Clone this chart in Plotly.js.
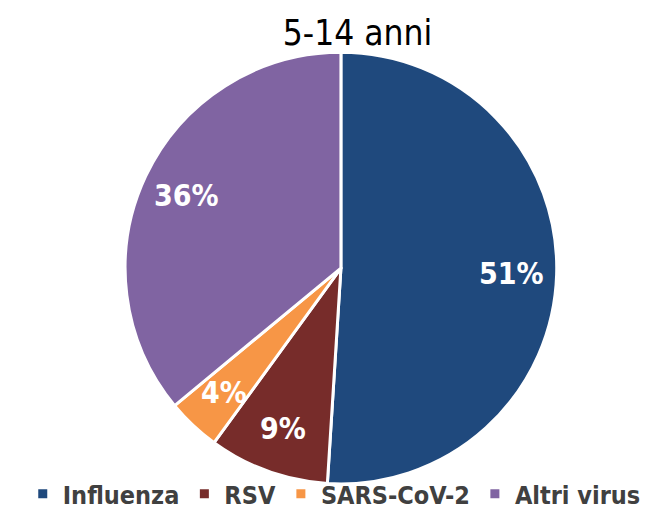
<!DOCTYPE html>
<html>
<head>
<meta charset="utf-8">
<script src="https://cdn.plot.ly/plotly-3.0.1.min.js"></script>
<style>html,body{margin:0;padding:0;background:#fff;}#chart{width:650px;height:517px;}</style>
</head>
<body>
<div id="chart"></div>
<script>
var categories = ["Influenza", "RSV", "SARS-CoV-2", "Altri virus"];
var values = [51, 9, 4, 36];
var colors = ["#1F497D", "#772C2A", "#F79646", "#8064A2"];
var titleText = "5-14 anni";

var dom = {x: [0.1925, 0.8565], y: [0.064, 0.899]};
var W = 650, H = 517;

var trace = {
  type: "pie",
  labels: categories,
  values: values,
  sort: false,
  direction: "clockwise",
  rotation: 0,
  marker: {colors: colors, line: {color: "#ffffff", width: 3}},
  textinfo: "none",
  textposition: "none",
  hoverinfo: "label+percent",
  domain: dom
};

// label annotations placed at slice mid-angles, computed from values
var total = values.reduce(function(a, b) { return a + b; }, 0);
var cxPx = (dom.x[0] + dom.x[1]) / 2 * W;
var cyPx = (dom.y[0] + dom.y[1]) / 2 * H;
var R = Math.min((dom.x[1] - dom.x[0]) * W, (dom.y[1] - dom.y[0]) * H) / 2;
var annotations = [];
var cum = 0;
for (var i = 0; i < values.length; i++) {
  var mid = (cum + values[i] / 2) / total * 2 * Math.PI;
  cum += values[i];
  var rr = 0.79 * R;
  var px = cxPx + rr * Math.sin(mid);
  var py = cyPx + rr * Math.cos(mid);
  annotations.push({
    x: px / W, y: py / H, xref: "paper", yref: "paper",
    text: Math.round(values[i] / total * 100) + "%",
    showarrow: false, xanchor: "center", yanchor: "middle",
    font: {family: "DejaVu Sans Condensed, sans-serif", size: 30, color: "#ffffff", weight: "bold"}
  });
}

var layout = {
  width: W,
  height: H,
  margin: {l: 0, r: 0, t: 0, b: 0, autoexpand: false},
  paper_bgcolor: "#ffffff",
  title: {
    text: titleText,
    font: {family: "DejaVu Sans Condensed, sans-serif", size: 35, color: "#000000"},
    x: 0.55, xanchor: "center", y: 0.937, yanchor: "middle"
  },
  annotations: annotations,
  showlegend: true,
  legend: {
    orientation: "h",
    x: 0.035, xanchor: "left",
    y: 0.0, yanchor: "bottom",
    bgcolor: "rgba(0,0,0,0)",
    font: {family: "DejaVu Sans Condensed, sans-serif", size: 25, color: "#404040", weight: "bold"},
    itemwidth: 30,
    traceorder: "normal"
  }
};

Plotly.newPlot("chart", [trace], layout, {displayModeBar: false, staticPlot: true});
</script>
</body>
</html>
